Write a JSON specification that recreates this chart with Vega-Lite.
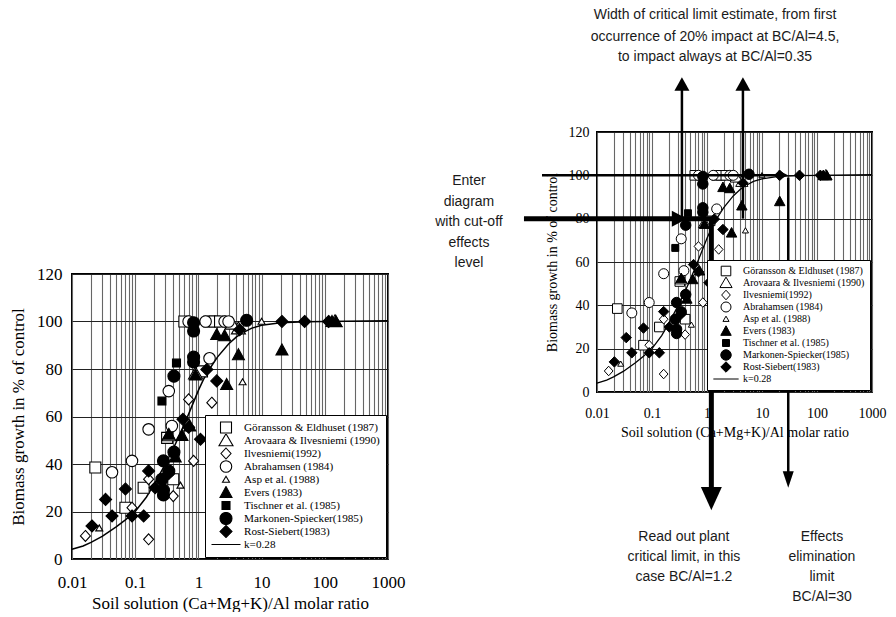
{
  "$schema": "https://vega.github.io/schema/vega-lite/v6.json",
  "background": "white",
  "padding": {"left": 8, "top": 7, "right": 0, "bottom": 0},
  "spacing": 28,
  "resolve": {"scale": {"shape": "independent", "fill": "independent", "stroke": "independent"}, "legend": {"shape": "independent", "fill": "independent", "stroke": "independent"}},
  "config": {
    "view": {"stroke": "black", "strokeWidth": 2},
    "axis": {"labelFont": "Liberation Serif", "titleFont": "Liberation Serif", "labelColor": "black", "titleColor": "black", "titleFontWeight": "normal", "domain": false, "ticks": false, "gridOpacity": 1, "labelFlush": false, "labelOverlap": false},
    "legend": {"title": null, "orient": "bottom-right", "fillColor": "white", "strokeColor": "black", "labelFont": "Liberation Serif", "labelColor": "black", "symbolStrokeColor": "black", "symbolStrokeWidth": 1.1, "symbolOpacity": 1, "labelLimit": 400},
    "text": {"font": "Liberation Sans", "fontSize": 14, "color": "#1a1a1a"}
  },
  "datasets": {
    "pts": [
      {"s": "Göransson & Eldhuset (1987)", "x": 0.0234, "y": 38.5},
      {"s": "Göransson & Eldhuset (1987)", "x": 0.136, "y": 30},
      {"s": "Göransson & Eldhuset (1987)", "x": 0.07, "y": 21.6},
      {"s": "Göransson & Eldhuset (1987)", "x": 0.4, "y": 33.6},
      {"s": "Göransson & Eldhuset (1987)", "x": 0.32, "y": 51},
      {"s": "Göransson & Eldhuset (1987)", "x": 1.14, "y": 79},
      {"s": "Göransson & Eldhuset (1987)", "x": 0.6, "y": 100},
      {"s": "Göransson & Eldhuset (1987)", "x": 1.5, "y": 100},
      {"s": "Göransson & Eldhuset (1987)", "x": 1.8, "y": 100},
      {"s": "Göransson & Eldhuset (1987)", "x": 2.2, "y": 100},
      {"s": "Arovaara & Ilvesniemi (1990)", "x": 4.3, "y": 97},
      {"s": "Arovaara & Ilvesniemi (1990)", "x": 3.4, "y": 99},
      {"s": "Arovaara & Ilvesniemi (1990)", "x": 0.9, "y": 78},
      {"s": "Arovaara & Ilvesniemi (1990)", "x": 145, "y": 100},
      {"s": "Arovaara & Ilvesniemi (1990)", "x": 0.34, "y": 52},
      {"s": "Ilvesniemi(1992)", "x": 0.0163, "y": 9.7},
      {"s": "Ilvesniemi(1992)", "x": 0.163, "y": 8.3},
      {"s": "Ilvesniemi(1992)", "x": 0.4, "y": 26.5},
      {"s": "Ilvesniemi(1992)", "x": 0.84, "y": 41.3},
      {"s": "Ilvesniemi(1992)", "x": 1.63, "y": 65.8},
      {"s": "Ilvesniemi(1992)", "x": 0.7, "y": 67.2},
      {"s": "Ilvesniemi(1992)", "x": 0.089, "y": 21.6},
      {"s": "Ilvesniemi(1992)", "x": 0.163, "y": 33.6},
      {"s": "Abrahamsen (1984)", "x": 0.043, "y": 36.5},
      {"s": "Abrahamsen (1984)", "x": 0.089, "y": 41.3},
      {"s": "Abrahamsen (1984)", "x": 0.163, "y": 54.6},
      {"s": "Abrahamsen (1984)", "x": 0.34, "y": 70.7},
      {"s": "Abrahamsen (1984)", "x": 0.38, "y": 56},
      {"s": "Abrahamsen (1984)", "x": 1.5, "y": 84.5},
      {"s": "Abrahamsen (1984)", "x": 0.7, "y": 100},
      {"s": "Abrahamsen (1984)", "x": 1.3, "y": 100},
      {"s": "Abrahamsen (1984)", "x": 2.6, "y": 100},
      {"s": "Abrahamsen (1984)", "x": 3.0, "y": 100},
      {"s": "Asp et al. (1988)", "x": 5.0, "y": 74.5},
      {"s": "Asp et al. (1988)", "x": 0.52, "y": 31},
      {"s": "Asp et al. (1988)", "x": 0.027, "y": 13},
      {"s": "Asp et al. (1988)", "x": 10, "y": 100},
      {"s": "Evers (1983)", "x": 1.95, "y": 94.5},
      {"s": "Evers (1983)", "x": 2.6, "y": 94},
      {"s": "Evers (1983)", "x": 4.3, "y": 86},
      {"s": "Evers (1983)", "x": 2.8, "y": 73.5},
      {"s": "Evers (1983)", "x": 21, "y": 88},
      {"s": "Evers (1983)", "x": 150, "y": 100},
      {"s": "Evers (1983)", "x": 130, "y": 100},
      {"s": "Evers (1983)", "x": 0.9, "y": 77.5},
      {"s": "Evers (1983)", "x": 0.43, "y": 43},
      {"s": "Evers (1983)", "x": 0.55, "y": 52},
      {"s": "Evers (1983)", "x": 0.73, "y": 56},
      {"s": "Evers (1983)", "x": 0.34, "y": 52.5},
      {"s": "Tischner et al. (1985)", "x": 0.265, "y": 66.5},
      {"s": "Tischner et al. (1985)", "x": 0.45, "y": 82.5},
      {"s": "Markonen-Spiecker(1985)", "x": 0.84, "y": 99.5},
      {"s": "Markonen-Spiecker(1985)", "x": 0.84, "y": 96},
      {"s": "Markonen-Spiecker(1985)", "x": 0.84, "y": 85},
      {"s": "Markonen-Spiecker(1985)", "x": 0.84, "y": 83},
      {"s": "Markonen-Spiecker(1985)", "x": 0.41, "y": 77},
      {"s": "Markonen-Spiecker(1985)", "x": 0.41, "y": 45},
      {"s": "Markonen-Spiecker(1985)", "x": 0.28, "y": 41.3},
      {"s": "Markonen-Spiecker(1985)", "x": 0.265, "y": 33.6},
      {"s": "Markonen-Spiecker(1985)", "x": 0.28, "y": 27},
      {"s": "Markonen-Spiecker(1985)", "x": 0.28, "y": 29},
      {"s": "Markonen-Spiecker(1985)", "x": 0.34, "y": 37},
      {"s": "Markonen-Spiecker(1985)", "x": 5.8, "y": 100.5},
      {"s": "Rost-Siebert(1983)", "x": 0.0207, "y": 13.9},
      {"s": "Rost-Siebert(1983)", "x": 0.034, "y": 25.1},
      {"s": "Rost-Siebert(1983)", "x": 0.043, "y": 18.1},
      {"s": "Rost-Siebert(1983)", "x": 0.07, "y": 29.5},
      {"s": "Rost-Siebert(1983)", "x": 0.089, "y": 18.1},
      {"s": "Rost-Siebert(1983)", "x": 0.136, "y": 18.1},
      {"s": "Rost-Siebert(1983)", "x": 0.163, "y": 37.1},
      {"s": "Rost-Siebert(1983)", "x": 0.207, "y": 30},
      {"s": "Rost-Siebert(1983)", "x": 0.34, "y": 36},
      {"s": "Rost-Siebert(1983)", "x": 0.57, "y": 58.8},
      {"s": "Rost-Siebert(1983)", "x": 0.7, "y": 55.5},
      {"s": "Rost-Siebert(1983)", "x": 1.08, "y": 50.4},
      {"s": "Rost-Siebert(1983)", "x": 1.36, "y": 79.8},
      {"s": "Rost-Siebert(1983)", "x": 1.95, "y": 75},
      {"s": "Rost-Siebert(1983)", "x": 4.5, "y": 96.5},
      {"s": "Rost-Siebert(1983)", "x": 21, "y": 100},
      {"s": "Rost-Siebert(1983)", "x": 48, "y": 100},
      {"s": "Rost-Siebert(1983)", "x": 115, "y": 100}
    ],
    "curve": [
      {"x": 0.01, "y": 4.1}, {"x": 0.015, "y": 5.5}, {"x": 0.02, "y": 7}, {"x": 0.03, "y": 9.5},
      {"x": 0.05, "y": 13.5}, {"x": 0.07, "y": 16.5}, {"x": 0.1, "y": 20}, {"x": 0.15, "y": 26},
      {"x": 0.2, "y": 31.5}, {"x": 0.3, "y": 40}, {"x": 0.4, "y": 46.5}, {"x": 0.5, "y": 52},
      {"x": 0.7, "y": 61}, {"x": 1, "y": 71}, {"x": 1.2, "y": 75.5}, {"x": 1.5, "y": 80}, {"x": 2, "y": 85},
      {"x": 3, "y": 90.5}, {"x": 4, "y": 93.5}, {"x": 5, "y": 95.2}, {"x": 7, "y": 97.2},
      {"x": 10, "y": 98.4}, {"x": 20, "y": 99.5}, {"x": 50, "y": 99.9}, {"x": 100, "y": 100}, {"x": 1000, "y": 100.3}
    ],
    "thinRules": [
      {"x": 0.35, "y": 80, "x2": 0.35, "y2": 142},
      {"x": 4.5, "y": 80, "x2": 4.5, "y2": 142},
      {"x": 0.001, "y": 100, "x2": 24, "y2": 100},
      {"x": 30, "y": 99, "x2": 30, "y2": -38}
    ],
    "thickRules": [
      {"x": 0.00047, "y": 80, "x2": 1.2, "y2": 80},
      {"x": 1.2, "y": 80, "x2": 1.2, "y2": -46}
    ],
    "upHeads": [{"x": 0.35, "y": 142.2}, {"x": 4.5, "y": 142.2}],
    "thinDown": [{"x": 30, "y": -40.4}],
    "thinRight": [{"x": 24, "y": 100}],
    "thickDown": [{"x": 1.2, "y": -49.2}],
    "thickRight": [{"x": 0.31, "y": 80}],
    "notes": [
      {"t": "Width of critical limit estimate, from first", "x": 1.4, "y": 174},
      {"t": "occurrence of 20% impact at BC/Al=4.5,", "x": 1.4, "y": 164},
      {"t": "to impact always at BC/Al=0.35", "x": 1.4, "y": 154.5},
      {"t": "Enter", "x": 0.000047, "y": 97.4},
      {"t": "diagram", "x": 0.000047, "y": 87.7},
      {"t": "with cut-off", "x": 0.000047, "y": 78.5},
      {"t": "effects", "x": 0.000047, "y": 68.8},
      {"t": "level", "x": 0.000047, "y": 59.5},
      {"t": "Read out plant", "x": 0.38, "y": -66.9},
      {"t": "critical limit, in this", "x": 0.38, "y": -76.2},
      {"t": "case BC/Al=1.2", "x": 0.38, "y": -85.4},
      {"t": "Effects", "x": 123, "y": -66.9},
      {"t": "elimination", "x": 123, "y": -76.2},
      {"t": "limit", "x": 123, "y": -85.4},
      {"t": "BC/Al=30", "x": 123, "y": -94.6}
    ]
  },
  "hconcat": [
    {
      "spacing": 12,
      "resolve": {"scale": {"shape": "independent", "fill": "independent", "stroke": "independent"}, "legend": {"shape": "independent", "fill": "independent", "stroke": "independent"}},
      "vconcat": [
        {"width": 10, "height": 120, "view": {"stroke": null}, "data": {"values": []}, "mark": "point", "encoding": {}},
        {
          "width": 316,
          "height": 285,
          "encoding": {
            "x": {"field": "x", "type": "quantitative",
              "scale": {"type": "log", "domain": [0.01, 1000], "nice": false},
              "axis": {"title": "Soil solution (Ca+Mg+K)/Al molar ratio",
                "values": [0.01,0.02,0.03,0.04,0.05,0.06,0.07,0.08,0.09,0.1,0.2,0.3,0.4,0.5,0.6,0.7,0.8,0.9,1,2,3,4,5,6,7,8,9,10,20,30,40,50,60,70,80,90,100,200,300,400,500,600,700,800,900,1000],
                "format": "~g",
                "labelExpr": "indexof([0.01,0.1,1,10,100,1000], datum.value) >= 0 ? datum.label : ''",
                "labelFontSize": 17, "titleFontSize": 17, "labelPadding": 15, "titlePadding": 5,
                "gridColor": "#666", "gridWidth": 1.1}},
            "y": {"field": "y", "type": "quantitative",
              "scale": {"domain": [0, 120], "nice": false},
              "axis": {"title": "Biomass growth in % of control", "values": [0,20,40,60,80,100,120],
                "labelFontSize": 17, "titleFontSize": 17, "labelPadding": 10, "titlePadding": 9,
                "gridColor": "#222", "gridWidth": 1.2}}
          },
          "layer": [
            {"data": {"name": "curve"}, "mark": {"type": "line", "color": "black", "strokeWidth": 1.5}},
            {"data": {"name": "pts"},
              "mark": {"type": "point", "filled": true, "size": 100, "strokeWidth": 1.1, "opacity": 1},
              "encoding": {
                "shape": {"field": "s", "type": "nominal",
                  "scale": {"domain": ["Göransson & Eldhuset (1987)", "Arovaara & Ilvesniemi (1990)", "Ilvesniemi(1992)", "Abrahamsen (1984)", "Asp et al. (1988)", "Evers (1983)", "Tischner et al. (1985)", "Markonen-Spiecker(1985)", "Rost-Siebert(1983)", "k=0.28"],
                    "range": ["M-1.1,-1.1H1.1V1.1H-1.1Z", "M0,-1.35L1.4,1.05L-1.4,1.05Z", "M0,-1.1L1,0L0,1.1L-1,0Z", "M-1.15,0A1.15,1.15,0,1,1,1.15,0A1.15,1.15,0,1,1,-1.15,0Z", "M0,-0.65L0.7,0.55L-0.7,0.55Z", "M0,-1.2L1.2,1L-1.2,1Z", "M-0.8,-0.8H0.8V0.8H-0.8Z", "M-1.2,0A1.2,1.2,0,1,1,1.2,0A1.2,1.2,0,1,1,-1.2,0Z", "M0,-1.2L1.2,0L0,1.2L-1.2,0Z", "M-2.9,0H2.9"]},
                  "legend": {"offset": 2, "padding": 6, "labelFontSize": 11.2, "symbolSize": 100, "symbolOffset": 9, "labelOffset": 12, "rowPadding": 0, "clipHeight": 13, "symbolStrokeColor": "black", "symbolStrokeWidth": 1.1}},
                "fill": {"field": "s", "type": "nominal",
                  "scale": {"domain": ["Göransson & Eldhuset (1987)", "Arovaara & Ilvesniemi (1990)", "Ilvesniemi(1992)", "Abrahamsen (1984)", "Asp et al. (1988)", "Evers (1983)", "Tischner et al. (1985)", "Markonen-Spiecker(1985)", "Rost-Siebert(1983)", "k=0.28"],
                    "range": ["white", "white", "white", "white", "white", "black", "black", "black", "black", "black"]},
                  "legend": {"offset": 2, "padding": 6, "labelFontSize": 11.2, "symbolSize": 100, "symbolOffset": 9, "labelOffset": 12, "rowPadding": 0, "clipHeight": 13, "symbolStrokeColor": "black", "symbolStrokeWidth": 1.1}},
                "stroke": {"field": "s", "type": "nominal",
                  "scale": {"domain": ["Göransson & Eldhuset (1987)", "Arovaara & Ilvesniemi (1990)", "Ilvesniemi(1992)", "Abrahamsen (1984)", "Asp et al. (1988)", "Evers (1983)", "Tischner et al. (1985)", "Markonen-Spiecker(1985)", "Rost-Siebert(1983)", "k=0.28"],
                    "range": ["black", "black", "black", "black", "black", "black", "black", "black", "black", "black"]},
                  "legend": {"offset": 2, "padding": 6, "labelFontSize": 11.2, "symbolSize": 100, "symbolOffset": 9, "labelOffset": 12, "rowPadding": 0, "clipHeight": 13, "symbolStrokeWidth": 1.1}}
              }}
          ]
        }
      ]
    },
    {
      "width": 275,
      "height": 260,
      "encoding": {
        "x": {"field": "x", "type": "quantitative",
          "scale": {"type": "log", "domain": [0.01, 1000], "nice": false},
          "axis": {"title": "Soil solution (Ca+Mg+K)/Al molar ratio",
            "values": [0.01,0.02,0.03,0.04,0.05,0.06,0.07,0.08,0.09,0.1,0.2,0.3,0.4,0.5,0.6,0.7,0.8,0.9,1,2,3,4,5,6,7,8,9,10,20,30,40,50,60,70,80,90,100,200,300,400,500,600,700,800,900,1000],
            "format": "~g",
            "labelExpr": "indexof([0.01,0.1,1,10,100,1000], datum.value) >= 0 ? datum.label : ''",
            "labelFontSize": 14, "titleFontSize": 14, "labelPadding": 14, "titlePadding": 5,
            "gridColor": "#666", "gridWidth": 1.1}},
        "y": {"field": "y", "type": "quantitative",
          "scale": {"domain": [0, 120], "nice": false},
          "axis": {"title": "Biomass growth in % of control", "values": [0,20,40,60,80,100,120],
            "labelFontSize": 14, "titleFontSize": 14, "labelPadding": 8, "titlePadding": 9,
            "gridColor": "#222", "gridWidth": 1.2}}
      },
      "layer": [
        {"data": {"name": "curve"}, "mark": {"type": "line", "color": "black", "strokeWidth": 1.3}},
        {"data": {"name": "pts"},
          "mark": {"type": "point", "filled": true, "size": 76, "strokeWidth": 1, "opacity": 1},
          "encoding": {
            "shape": {"field": "s", "type": "nominal",
              "scale": {"domain": ["Göransson & Eldhuset (1987)", "Arovaara & Ilvesniemi (1990)", "Ilvesniemi(1992)", "Abrahamsen (1984)", "Asp et al. (1988)", "Evers (1983)", "Tischner et al. (1985)", "Markonen-Spiecker(1985)", "Rost-Siebert(1983)", "k=0.28"],
                "range": ["M-1.1,-1.1H1.1V1.1H-1.1Z", "M0,-1.35L1.4,1.05L-1.4,1.05Z", "M0,-1.1L1,0L0,1.1L-1,0Z", "M-1.15,0A1.15,1.15,0,1,1,1.15,0A1.15,1.15,0,1,1,-1.15,0Z", "M0,-0.65L0.7,0.55L-0.7,0.55Z", "M0,-1.2L1.2,1L-1.2,1Z", "M-0.8,-0.8H0.8V0.8H-0.8Z", "M-1.2,0A1.2,1.2,0,1,1,1.2,0A1.2,1.2,0,1,1,-1.2,0Z", "M0,-1.2L1.2,0L0,1.2L-1.2,0Z", "M-2.9,0H2.9"]},
              "legend": {"offset": 2, "padding": 5, "labelFontSize": 10, "symbolSize": 76, "symbolOffset": 9, "labelOffset": 12, "rowPadding": 0, "clipHeight": 12, "symbolStrokeColor": "black", "symbolStrokeWidth": 1}},
            "fill": {"field": "s", "type": "nominal",
              "scale": {"domain": ["Göransson & Eldhuset (1987)", "Arovaara & Ilvesniemi (1990)", "Ilvesniemi(1992)", "Abrahamsen (1984)", "Asp et al. (1988)", "Evers (1983)", "Tischner et al. (1985)", "Markonen-Spiecker(1985)", "Rost-Siebert(1983)", "k=0.28"],
                "range": ["white", "white", "white", "white", "white", "black", "black", "black", "black", "black"]},
              "legend": {"offset": 2, "padding": 5, "labelFontSize": 10, "symbolSize": 76, "symbolOffset": 9, "labelOffset": 12, "rowPadding": 0, "clipHeight": 12, "symbolStrokeColor": "black", "symbolStrokeWidth": 1}},
            "stroke": {"field": "s", "type": "nominal",
              "scale": {"domain": ["Göransson & Eldhuset (1987)", "Arovaara & Ilvesniemi (1990)", "Ilvesniemi(1992)", "Abrahamsen (1984)", "Asp et al. (1988)", "Evers (1983)", "Tischner et al. (1985)", "Markonen-Spiecker(1985)", "Rost-Siebert(1983)", "k=0.28"],
                "range": ["black", "black", "black", "black", "black", "black", "black", "black", "black", "black"]},
              "legend": {"offset": 2, "padding": 5, "labelFontSize": 10, "symbolSize": 76, "symbolOffset": 9, "labelOffset": 12, "rowPadding": 0, "clipHeight": 12, "symbolStrokeWidth": 1}}
          }},
        {"data": {"name": "thinRules"}, "mark": {"type": "rule", "color": "black", "strokeWidth": 2.5},
          "encoding": {"x2": {"field": "x2"}, "y2": {"field": "y2"}}},
        {"data": {"name": "thickRules"}, "mark": {"type": "rule", "color": "black", "strokeWidth": 5},
          "encoding": {"x2": {"field": "x2"}, "y2": {"field": "y2"}}},
        {"data": {"name": "upHeads"}, "mark": {"type": "point", "filled": true, "color": "black", "opacity": 1, "size": 225, "shape": "M0,-0.9L1,0.9L-1,0.9Z"}},
        {"data": {"name": "thinDown"}, "mark": {"type": "point", "filled": true, "color": "black", "opacity": 1, "size": 121, "shape": "M-1,-1.5L1,-1.5L0,1.5Z"}},
        {"data": {"name": "thinRight"}, "mark": {"type": "point", "filled": true, "color": "black", "opacity": 1, "size": 100, "shape": "M1,0L-0.9,-1L-0.9,1Z"}},
        {"data": {"name": "thickDown"}, "mark": {"type": "point", "filled": true, "color": "black", "opacity": 1, "size": 441, "shape": "M-1,-1.1L1,-1.1L0,1.1Z"}},
        {"data": {"name": "thickRight"}, "mark": {"type": "point", "filled": true, "color": "black", "opacity": 1, "size": 256, "shape": "M1,0L-0.9,-1L-0.9,1Z"}},
        {"data": {"name": "notes"}, "mark": {"type": "text", "align": "center", "baseline": "middle"},
          "encoding": {"text": {"field": "t"}}}
      ]
    }
  ]
}
